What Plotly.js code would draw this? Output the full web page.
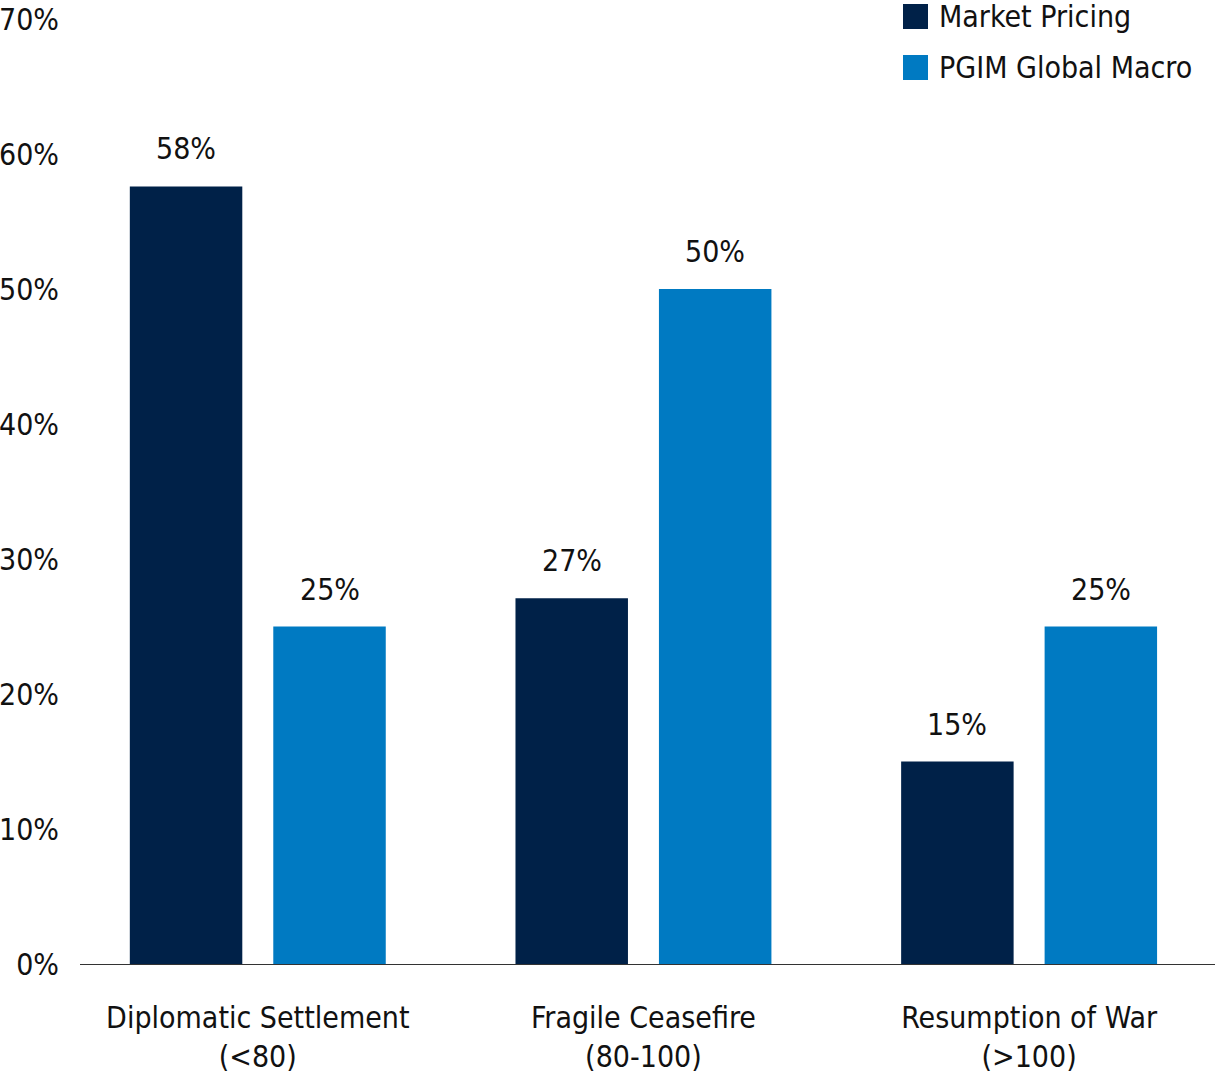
<!DOCTYPE html>
<html>
<head>
<meta charset="utf-8">
<script src="https://cdn.plot.ly/plotly-3.0.1.min.js"></script>
<style>
  html, body { margin: 0; padding: 0; background: #ffffff; }
  #chart { width: 1224px; height: 1080px; }
</style>
</head>
<body>
<div id="chart"></div>
<script>
// ---- data ----
const catLine1 = ["Diplomatic Settlement", "Fragile Ceasefire", "Resumption of War"];
const catLine2 = ["(&lt;80)", "(80-100)", "(&gt;100)"];
const seriesNames = ["Market Pricing", "PGIM Global Macro"];
const marketPricing = [57.6, 27.1, 15.0];
const pgimGlobalMacro = [25, 50, 25];
const yTickVals = [0, 10, 20, 30, 40, 50, 60, 70];
const yTickText = ["0%", "10%", "20%", "30%", "40%", "50%", "60%", "70%"];

// ---- style ----
const FONT = '"DejaVu Sans Condensed", "Liberation Sans Narrow", sans-serif';
const FS = 30;
const TXT = '#111111';
const colors = ["#002148", "#007AC2"];
const seriesValues = [marketPricing, pgimGlobalMacro];
const xRange = [-0.461, 2.482];
const bargap = 0.256, bargroupgap = 0.216;
const M = { l: 80, r: 9, t: 19, b: 116 };
const W = 1224, H = 1080;
const plotW = W - M.l - M.r, plotH = H - M.t - M.b;
// helpers: figure pixels -> paper fraction (for the legend block only)
const px2x = px => (px - M.l) / plotW;
const py2y = py => (H - M.b - py) / plotH;

const traces = seriesValues.map((vals, i) => ({
  type: 'bar',
  name: seriesNames[i],
  x: catLine1,
  y: vals,
  marker: { color: colors[i] },
  showlegend: false,
  hoverinfo: 'skip'
}));

const annotations = [];
// value labels above bars
const slot = (1 - bargap) / seriesValues.length;
seriesValues.forEach((vals, i) => {
  vals.forEach((v, j) => {
    annotations.push({
      xref: 'x', yref: 'y',
      x: j + (i - (seriesValues.length - 1) / 2) * slot,
      y: v,
      yanchor: 'bottom', xanchor: 'center',
      yshift: 18,
      text: Math.round(v) + '%',
      showarrow: false,
      font: { family: FONT, size: FS, color: TXT }
    });
  });
});

// legend (squares + names)
const legendLeft = 903, legendTop = 4, sq = 25, legendStep = 51, textGap = 9;
const shapes = [];
seriesNames.forEach((name, i) => {
  const top = legendTop + i * legendStep;
  shapes.push({
    type: 'rect', xref: 'paper', yref: 'paper',
    x0: px2x(legendLeft), x1: px2x(legendLeft + sq),
    y0: py2y(top + sq), y1: py2y(top),
    fillcolor: colors[i], line: { width: 0 }
  });
  annotations.push({
    xref: 'paper', yref: 'paper',
    x: px2x(legendLeft + sq + textGap), y: py2y(top + sq / 2),
    xanchor: 'left', yanchor: 'middle',
    text: name, showarrow: false,
    font: { family: FONT, size: FS, color: TXT }
  });
});

const layout = {
  width: W, height: H,
  paper_bgcolor: '#ffffff', plot_bgcolor: '#ffffff',
  margin: Object.assign({ autoexpand: false }, M),
  font: { family: FONT, size: FS, color: TXT },
  barmode: 'group',
  bargap: bargap,
  bargroupgap: bargroupgap,
  showlegend: false,
  xaxis: {
    type: 'category',
    range: xRange,
    tickmode: 'array',
    tickvals: catLine1,
    ticktext: catLine1.map((t, j) => t + '<br>' + catLine2[j]),
    showgrid: false, zeroline: false,
    showline: true, linecolor: '#333333', linewidth: 1,
    ticks: '', ticklabelstandoff: 27, tickangle: 0,
    tickfont: { family: FONT, size: FS, color: TXT }
  },
  yaxis: {
    range: [0, 70],
    tickmode: 'array', tickvals: yTickVals, ticktext: yTickText,
    showgrid: false, zeroline: false, showline: false,
    ticks: '', ticklabelstandoff: 20,
    tickfont: { family: FONT, size: FS, color: TXT }
  },
  shapes: shapes,
  annotations: annotations
};

Plotly.newPlot('chart', traces, layout, { displayModeBar: false, staticPlot: true });
</script>
</body>
</html>
